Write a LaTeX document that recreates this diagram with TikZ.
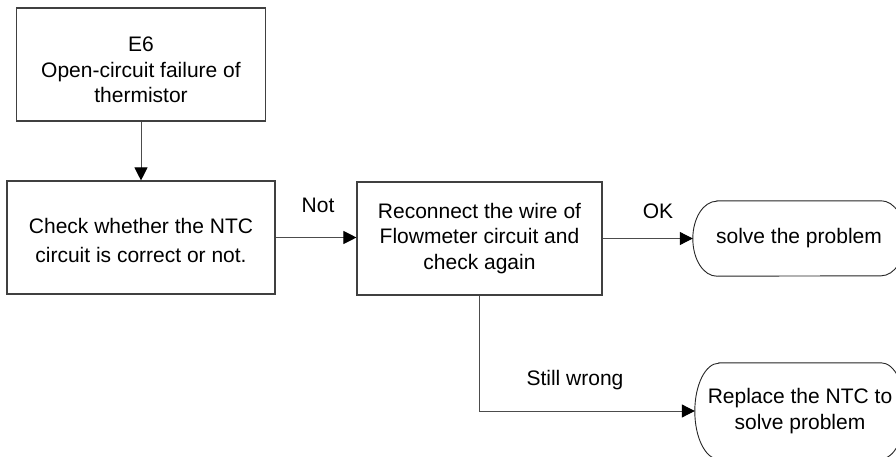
\documentclass[tikz,border=0pt]{standalone}
\usepackage{fontspec}
\setmainfont{Liberation Sans}
\usetikzlibrary{arrows.meta}
\tikzset{
  box/.style={draw=black!75, line width=1.1pt, fill=white, inner sep=0pt, text=black},
  term/.style={inner sep=0pt, align=center, text=black},
  termline/.style={draw=black!85, line width=0.9pt},
  conn/.style={draw=black!70, line width=1pt, -{Triangle[length=13pt,width=13pt,color=black]}},
  lab/.style={inner sep=0pt, text=black},
}
\begin{document}
\begin{tikzpicture}[x=1pt,y=-1pt,font=\fontsize{21}{25.5}\selectfont]
\clip (0,0) rectangle (896,457);
\fill[white] (0,0) rectangle (896,457);
\node[box, minimum width=249pt, minimum height=113pt, text height=20pt, text depth=45pt] (b1) at (141,64.5)
  {\begin{tabular}[t]{@{}c@{}}E6\\Open-circuit failure of\\thermistor\end{tabular}};
\node[box, minimum width=268pt, minimum height=113pt, text height=20pt, text depth=29pt] (b2) at (141,237.5)
  {\fontsize{21}{29}\selectfont\begin{tabular}[t]{@{}c@{}}Check whether the NTC\\circuit is correct or not.\end{tabular}};
\node[box, align=center, minimum width=245pt, minimum height=113pt] (b3) at (479.5,238.5) {Reconnect the wire of\\Flowmeter circuit and\\check again};
\node[term, minimum width=212pt, minimum height=75pt] (t1) at (799,238.5) {solve the problem};
\node[term, minimum width=210pt, minimum height=96pt] (t2) at (800,411) {Replace the NTC to\\solve problem};
\draw[termline] ([xshift=24pt]t1.north west) -- ([xshift=-24pt]t1.north east)
  arc[start angle=90,end angle=-90,x radius=24pt,y radius=37.5pt]
  -- ([xshift=24pt]t1.south west)
  arc[start angle=270,end angle=90,x radius=24pt,y radius=37.5pt] -- cycle;
\draw[termline] ([xshift=24pt]t2.north west) -- ([xshift=-24pt]t2.north east)
  arc[start angle=90,end angle=-90,x radius=24pt,y radius=48pt]
  -- ([xshift=24pt]t2.south west)
  arc[start angle=270,end angle=90,x radius=24pt,y radius=48pt] -- cycle;
\draw[conn] (b1.south) -- (b2.north);
\draw[conn] (b2.east) -- (b2.east -| b3.west);
\draw[conn] (b3.east) -- (t1.west);
\draw[conn] (b3.south) |- (t2.west);
\node[lab] (lnot) at (318,205) {Not};
\node[lab] (lok) at (658,211) {OK};
\node[lab] (lsw) at (575,380) {Still wrong};
\end{tikzpicture}
\end{document}
